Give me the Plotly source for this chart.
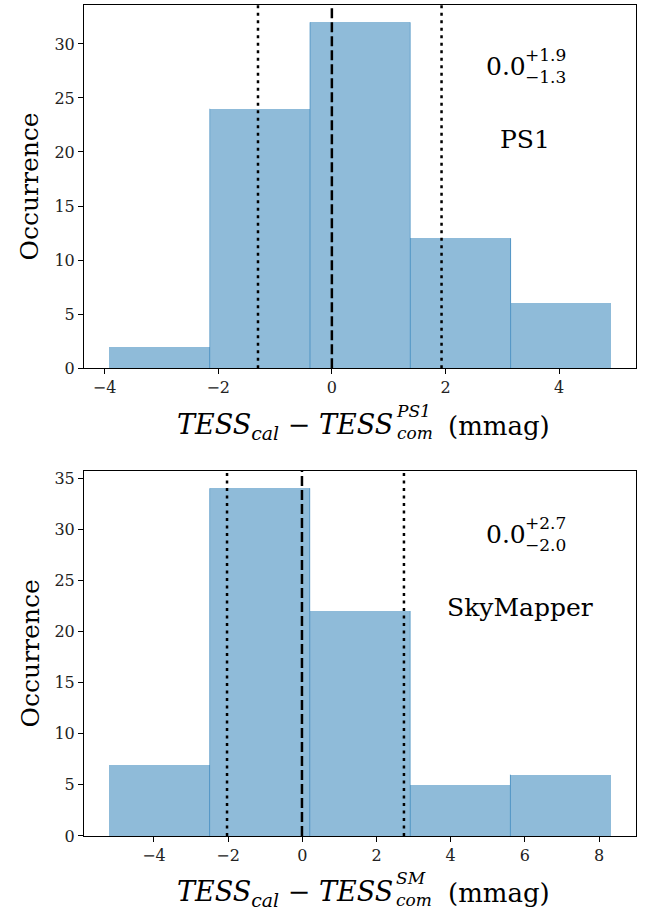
import plotly.graph_objects as go
from plotly.subplots import make_subplots

# ---------------- data ----------------
ps1_edges = [-3.92, -2.15, -0.385, 1.38, 3.145, 4.91]
ps1_counts = [2, 24, 32, 12, 6]
ps1_median, ps1_lo, ps1_hi = 0.0, -1.30, 1.93
ps1_label = "PS1"
ps1_stat = ("0.0", "+1.9", "−1.3")

sm_edges = [-5.21, -2.50, 0.20, 2.91, 5.61, 8.32]
sm_counts = [7, 34, 22, 5, 6]
sm_median, sm_lo, sm_hi = -0.01, -2.03, 2.74
sm_label = "SkyMapper"
sm_stat = ("0.0", "+2.7", "−2.0")

ps1_yticks = [0, 5, 10, 15, 20, 25, 30]
sm_yticks = [0, 5, 10, 15, 20, 25, 30, 35]
ps1_xticks = [-4, -2, 0, 2, 4]
sm_xticks = [-4, -2, 0, 2, 4, 6, 8]

# ---------------- layout constants ----------------
W, H = 652, 913
ML, MR, MT, MB = 84, 16, 3, 77
PW, PH = W - ML - MR, H - MT - MB
FONT = "DejaVu Serif"
FILL = "rgba(31,119,180,0.5)"
EDGE = "rgba(31,119,180,0.55)"


def px_x(p):
    return (p - ML) / PW


def px_y(p):
    return (H - MB - p) / PH


fig = make_subplots(rows=2, cols=1, vertical_spacing=0.0)
fig.update_layout(
    yaxis=dict(domain=[px_y(367), px_y(3)]),
    yaxis2=dict(domain=[px_y(836), px_y(470)]),
)


def add_hist(edges, counts, row):
    centers = [(a + b) / 2 for a, b in zip(edges[:-1], edges[1:])]
    widths = [b - a for a, b in zip(edges[:-1], edges[1:])]
    fig.add_trace(go.Bar(x=centers, y=counts, width=widths,
                         marker=dict(color=FILL, line=dict(width=0)),
                         showlegend=False, hoverinfo="skip"), row=row, col=1)
    xs, ys = [], []
    for i in range(1, len(edges) - 1):
        top = max(counts[i - 1], counts[i])
        xs += [edges[i], edges[i], None]
        ys += [0, top, None]
    fig.add_trace(go.Scatter(x=xs, y=ys, mode="lines",
                             line=dict(color=EDGE, width=1),
                             showlegend=False, hoverinfo="skip"), row=row, col=1)


add_hist(ps1_edges, ps1_counts, 1)
add_hist(sm_edges, sm_counts, 2)


def vline(x, dash, row):
    yref = "y domain" if row == 1 else "y2 domain"
    xref = "x" if row == 1 else "x2"
    fig.add_shape(type="line", xref=xref, yref=yref, x0=x, x1=x, y0=0, y1=1,
                  line=dict(color="black", width=2.5, dash=dash))


for row, (m, lo, hi) in ((1, (ps1_median, ps1_lo, ps1_hi)), (2, (sm_median, sm_lo, sm_hi))):
    vline(m, "10px,4px", row)
    vline(lo, "3px,4.5px", row)
    vline(hi, "3px,4.5px", row)

axis_common = dict(showline=True, linecolor="black", linewidth=1.1, mirror=True,
                   ticks="outside", ticklen=5, tickwidth=1, tickcolor="black",
                   showgrid=False, zeroline=False,
                   tickfont=dict(family=FONT, size=16, color="#222"))

ps1_span = ps1_edges[-1] - ps1_edges[0]
sm_span = sm_edges[-1] - sm_edges[0]
fig.update_xaxes(range=[ps1_edges[0] - 0.05 * ps1_span, ps1_edges[-1] + 0.05 * ps1_span],
                 tickvals=ps1_xticks, row=1, col=1, **axis_common)
fig.update_xaxes(range=[sm_edges[0] - 0.05 * sm_span, sm_edges[-1] + 0.05 * sm_span],
                 tickvals=sm_xticks, row=2, col=1, **axis_common)
fig.update_yaxes(range=[0, max(ps1_counts) * 1.05], tickvals=ps1_yticks, row=1, col=1, **axis_common)
fig.update_yaxes(range=[0, max(sm_counts) * 1.05], tickvals=sm_yticks, row=2, col=1, **axis_common)

annots = []


def txt(text, x, y, size, xanchor="left", yanchor="middle", angle=0, align="left"):
    annots.append(dict(text=text, x=px_x(x), y=px_y(y), xref="paper", yref="paper",
                       xanchor=xanchor, yanchor=yanchor, showarrow=False, textangle=angle,
                       align=align, borderpad=0,
                       font=dict(family=FONT, size=size, color="black")))


# x-axis labels
for dy, sup in ((0, "PS1"), (468, "SM")):
    txt("<i>TESS<sub>cal</sub></i> − <i>TESS</i>", 394, 426 + dy, 27, xanchor="right")
    txt("<i>" + sup + "</i><br><i>com</i>", 395, 421 + dy, 17)
    txt("(mmag)", 447, 425 + dy, 26)

# y-axis labels
txt("Occurrence", 30, 185, 25, xanchor="center", angle=-90)
txt("Occurrence", 30, 653, 25, xanchor="center", angle=-90)

# stats and survey labels
for dy, stat, lab, labx in ((0, ps1_stat, ps1_label, 525), (469, sm_stat, sm_label, 520)):
    txt(stat[0], 485, 65 + dy, 25)
    txt(stat[1] + "<br>" + stat[2], 524, 64 + dy, 17)
    txt(lab, labx, 138 + dy, 25, xanchor="center")

fig.update_layout(width=W, height=H, margin=dict(l=ML, r=MR, t=MT, b=MB),
                  plot_bgcolor="white", paper_bgcolor="white",
                  bargap=0, annotations=annots, showlegend=False)

fig.write_html("out.html")
